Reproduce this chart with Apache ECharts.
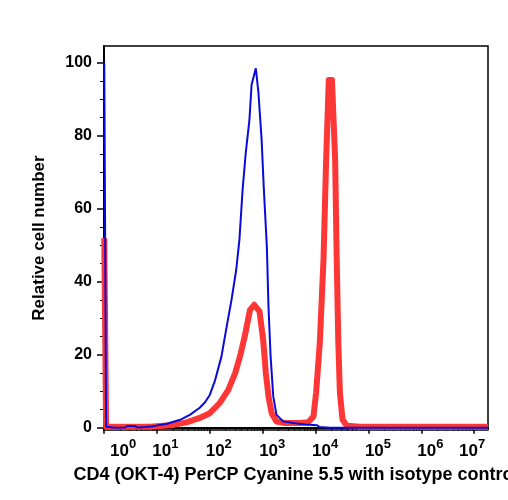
<!DOCTYPE html>
<html lang="en">
<head>
  <meta charset="UTF-8">
  <title>CD4 histogram</title>
  <style>
    html, body { margin: 0; padding: 0; background: #fff; }
  </style>
</head>
<body>
  <div id="chart" style="width: 508px; height: 500px;"></div>

<script src="https://cdn.jsdelivr.net/npm/echarts@6/dist/echarts.min.js"></script>

<script>
  // x values are log10 of fluorescence (decades), y is relative cell number
  const isotypeLog = [0.005, 0.04, 0.21, 0.40, 0.45, 0.57, 0.64, 0.78, 0.93, 1.06, 1.19, 1.25, 1.44, 1.63, 1.81, 1.91, 2.00, 2.10, 2.22, 2.32, 2.41, 2.50, 2.56, 2.62, 2.68, 2.75, 2.79, 2.87, 2.92, 2.98, 3.02, 3.08, 3.11, 3.15, 3.20, 3.26, 3.39, 3.58, 3.80, 4.03, 4.08, 4.27, 7.26];
  const isotypeCount = [100, 0.3, 0, 0.1, 0.5, 0.5, 0.1, 0.2, 0.4, 0.8, 1.1, 1.4, 2.2, 3.6, 5.5, 7, 9, 13, 19.5, 27.8, 35, 43.3, 51.5, 65.2, 75.3, 84.4, 94, 98.5, 91.8, 78.9, 66, 49.3, 33, 19.5, 8.6, 3.6, 1.7, 1.3, 0.9, 0.7, 0.2, 0, 0];

  const cd4Log = [0.005, 0.04, 0.87, 1.06, 1.31, 1.56, 1.81, 2.00, 2.19, 2.35, 2.48, 2.57, 2.66, 2.76, 2.84, 2.94, 3.01, 3.06, 3.11, 3.17, 3.26, 3.42, 3.71, 3.86, 3.96, 4.01, 4.08, 4.15, 4.20, 4.25, 4.31, 4.37, 4.40, 4.43, 4.46, 4.51, 4.59, 4.84, 7.26];
  const cd4Count = [52, 0.3, 0.3, 0.5, 0.8, 1.5, 2.7, 4, 6.8, 10.4, 15, 19.5, 25, 32.3, 33.7, 31.9, 24, 15, 8.6, 4, 1.7, 1.3, 1.3, 1.5, 3.1, 9.6, 23.3, 46, 73.4, 95.3, 95.3, 73.4, 46, 23.3, 9.6, 2.2, 0.6, 0.3, 0.3];

  const yMajorTicks = [0, 20, 40, 60, 80, 100];
  const yMinorTicks = [5, 10, 15, 25, 30, 35, 45, 50, 55, 65, 70, 75, 85, 90, 95];
  const xMajorTicks = [0, 1, 2, 3, 4, 5, 6, 7];
  const xLabelPos = [0.36, 1.16, 2.17, 3.18, 4.18, 5.18, 6.17, 6.96];
  const xLabelExp = ['0', '1', '2', '3', '4', '5', '6', '7'];

  const xMinorTicks = [];
  for (let d = 0; d < 7; d++) {
    for (let k = 2; k <= 9; k++) {
      xMinorTicks.push(d + Math.log10(k));
    }
  }

  const font = 'Liberation Sans, Arial, Helvetica, sans-serif';
  const xMin = 0, xMax = 7.26;
  const yMin = -0.6, yMax = 104.6;

  const myChart = echarts.init(document.getElementById('chart'));

  const option = {
    animation: false,
    grid: {
      left: 104,
      right: 20,
      top: 46,
      bottom: 70,
      containLabel: false,
      outerBoundsMode: 'none',
      show: true,
      borderColor: '#000',
      borderWidth: 1.5
    },
    xAxis: [
      {
        type: 'value',
        min: xMin,
        max: xMax,
        position: 'bottom',
        name: 'CD4 (OKT-4) PerCP Cyanine 5.5 with isotype control',
        nameLocation: 'middle',
        nameGap: 36,
        nameTextStyle: { color: '#000', fontSize: 18, fontWeight: 'bold', fontFamily: font },
        axisLine: { show: true, lineStyle: { color: '#000', width: 2 } },
        axisTick: { show: true, length: 6, lineStyle: { color: '#000', width: 1.5 }, customValues: xMajorTicks },
        axisLabel: {
          show: true,
          margin: 8,
          hideOverlap: false,
          customValues: xLabelPos,
          formatter: function (v) {
            const i = xLabelPos.indexOf(v);
            return '{b|10}{s|' + xLabelExp[i] + '}';
          },
          rich: {
            b: { fontSize: 17, fontWeight: 'bold', fontFamily: font, color: '#000', lineHeight: 22, verticalAlign: 'bottom' },
            s: { fontSize: 13, fontWeight: 'bold', fontFamily: font, color: '#000', lineHeight: 13, verticalAlign: 'top' }
          }
        },
        splitLine: { show: false }
      },
      {
        type: 'value',
        min: xMin,
        max: xMax,
        position: 'bottom',
        axisLine: { show: false },
        axisTick: { show: true, length: 3, lineStyle: { color: '#000', width: 1 }, customValues: xMinorTicks },
        axisLabel: { show: false },
        splitLine: { show: false }
      }
    ],
    yAxis: [
      {
        type: 'value',
        min: yMin,
        max: yMax,
        position: 'left',
        name: 'Relative cell number',
        nameLocation: 'middle',
        nameGap: 56,
        nameTextStyle: { color: '#000', fontSize: 17, fontWeight: 'bold', fontFamily: font },
        axisLine: { show: true, lineStyle: { color: '#000', width: 2 } },
        axisTick: { show: true, length: 7, lineStyle: { color: '#000', width: 1.5 }, customValues: yMajorTicks },
        axisLabel: {
          show: true,
          margin: 12,
          customValues: yMajorTicks,
          color: '#000',
          fontSize: 16,
          fontWeight: 'bold',
          fontFamily: font
        },
        splitLine: { show: false }
      },
      {
        type: 'value',
        min: yMin,
        max: yMax,
        position: 'left',
        axisLine: { show: false },
        axisTick: { show: true, length: 4, lineStyle: { color: '#000', width: 1 }, customValues: yMinorTicks },
        axisLabel: { show: false },
        splitLine: { show: false }
      }
    ],
    series: [
      {
        name: 'CD4',
        type: 'line',
        xAxisIndex: 0,
        yAxisIndex: 0,
        showSymbol: false,
        symbol: 'none',
        clip: true,
        data: cd4Log.map((x, i) => [x, cd4Count[i]]),
        lineStyle: { color: '#ff3636', width: 6, join: 'round' },
        z: 2
      },
      {
        name: 'Isotype control',
        type: 'line',
        xAxisIndex: 0,
        yAxisIndex: 0,
        showSymbol: false,
        symbol: 'none',
        clip: true,
        data: isotypeLog.map((x, i) => [x, isotypeCount[i]]),
        lineStyle: { color: '#0a0adc', width: 2 },
        z: 3
      }
    ]
  };

  myChart.setOption(option);
</script>
</body>
</html>
